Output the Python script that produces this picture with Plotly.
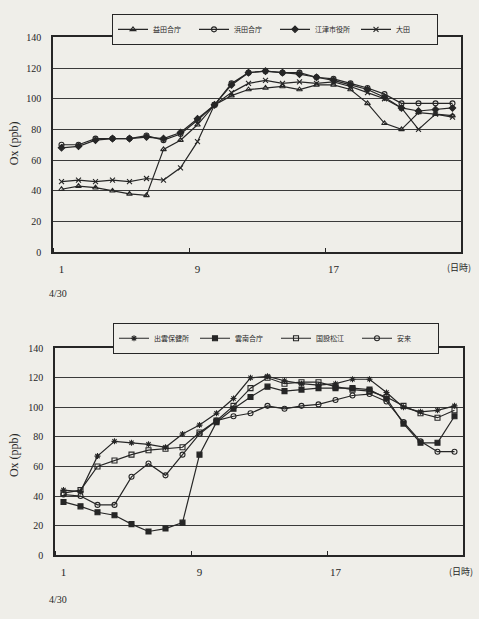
import plotly.graph_objects as go

# ---------------- data ----------------
hours = list(range(1, 25))
x_tick_vals = [1, 9, 17]
x_tick_text = ["1", "9", "17"]

# upper panel
top_names = ["益田合庁", "浜田合庁", "江津市役所", "大田"]
masuda = [41, 43, 42, 40, 38, 37, 67, 73, 83, 96, 102, 106, 107, 108, 106, 109, 109, 106, 97, 84, 80, 91, 90, 89]
hamada = [70, 70, 74, 74, 74, 76, 73, 77, 86, 96, 110, 117, 118, 117, 117, 114, 113, 110, 107, 103, 97, 97, 97, 97]
gotsu = [68, 69, 73, 74, 74, 75, 74, 78, 87, 96, 109, 117, 118, 117, 116, 114, 112, 109, 106, 101, 94, 92, 93, 94]
oda = [46, 47, 46, 47, 46, 48, 47, 55, 72, 96, 104, 110, 112, 110, 111, 110, 111, 108, 104, 100, 94, 80, 90, 88]

# lower panel
bot_names = ["出雲保健所", "雲南合庁", "国設松江", "安来"]
izumo = [44, 43, 67, 77, 76, 75, 73, 82, 88, 96, 106, 120, 121, 118, 116, 115, 116, 119, 119, 110, 100, 97, 98, 101]
unnan = [36, 33, 29, 27, 21, 16, 18, 22, 68, 90, 99, 107, 114, 111, 112, 113, 113, 113, 112, 106, 89, 76, 76, 94]
matsue = [42, 44, 60, 64, 68, 71, 72, 73, 83, 91, 101, 113, 120, 116, 117, 117, 114, 112, 111, 107, 101, 96, 93, 98]
yasugi = [41, 40, 34, 34, 53, 62, 54, 68, 82, 91, 94, 96, 101, 99, 101, 102, 105, 108, 109, 104, 90, 77, 70, 70]

# ---------------- styling ----------------
W, H = 479, 619
BG = "#efeee9"
INK = "#262626"
SERIF = "Liberation Serif"
CJK = "Noto Sans CJK JP"

top_series = [
    (top_names[0], masuda, "triangle-up-open"),
    (top_names[1], hamada, "circle-open"),
    (top_names[2], gotsu, "diamond"),
    (top_names[3], oda, "x-thin-open"),
]
bot_series = [
    (bot_names[0], izumo, "asterisk-open"),
    (bot_names[1], unnan, "square"),
    (bot_names[2], matsue, "square-open"),
    (bot_names[3], yasugi, "circle-open"),
]

fig = go.Figure()
for name, vals, sym in top_series:
    fig.add_trace(go.Scatter(
        x=hours, y=vals, name=name, mode="lines+markers",
        line=dict(color=INK, width=1.2),
        marker=dict(symbol=sym, size=5, color=INK, line=dict(color=INK, width=1.1)),
        xaxis="x", yaxis="y", legend="legend"))
for name, vals, sym in bot_series:
    fig.add_trace(go.Scatter(
        x=hours, y=vals, name=name, mode="lines+markers",
        line=dict(color=INK, width=1.2),
        marker=dict(symbol=sym, size=5, color=INK, line=dict(color=INK, width=1.1)),
        xaxis="x2", yaxis="y2", legend="legend2"))


def xax(domain, anchor):
    return dict(
        domain=domain, anchor=anchor, range=[0.5, 24.5],
        tickmode="array", tickvals=x_tick_vals, ticktext=x_tick_text,
        ticks="", showgrid=False, zeroline=False,
        showline=True, linecolor=INK, linewidth=1.5, mirror=True,
        tickfont=dict(family=SERIF, size=11, color=INK),
        ticklabelstandoff=6,
        minor=dict(ticks="inside", tick0=0.5, dtick=8, ticklen=4,
                   tickcolor=INK, tickwidth=1, showgrid=False),
    )


def yax(domain, anchor):
    return dict(
        domain=domain, anchor=anchor, range=[0, 140],
        tick0=0, dtick=20, ticks="",
        showgrid=True, gridcolor="#3a3a3a", gridwidth=1.3, zeroline=False,
        showline=True, linecolor=INK, linewidth=1.5, mirror=True,
        tickfont=dict(family=SERIF, size=10, color=INK),
        ticklabelstandoff=8,
    )


legend_common = dict(
    orientation="h", bgcolor=BG, bordercolor=INK, borderwidth=1,
    font=dict(family=CJK, size=7, color=INK),
    itemwidth=30, entrywidth=36, entrywidthmode="pixels",
    xanchor="left", yanchor="top", tracegroupgap=0,
    itemclick=False,
)

fig.update_layout(
    width=W, height=H, autosize=False,
    margin=dict(l=0, r=0, t=0, b=0),
    paper_bgcolor=BG, plot_bgcolor=BG,
    showlegend=True,
    xaxis=xax([53 / W, 461 / W], "y"),
    yaxis=yax([1 - 251 / H, 1 - 32 / H], "x"),
    xaxis2=xax([55 / W, 463 / W], "y2"),
    yaxis2=yax([1 - 560 / H, 1 - 349 / H], "x2"),
    legend=dict(legend_common, x=112 / W, y=1 - 8 / H),
    legend2=dict(legend_common, x=113 / W, y=1 - 323 / H),
)

annots = [
    dict(text="Ox (ppb)", x=14 / W, y=1 - 140 / H, textangle=-90),
    dict(text="Ox (ppb)", x=14 / W, y=1 - 458 / H, textangle=-90),
    dict(text="(日時)", x=459 / W, y=1 - 267 / H),
    dict(text="(日時)", x=461 / W, y=1 - 577 / H),
    dict(text="4/30", x=58 / W, y=1 - 293 / H),
    dict(text="4/30", x=58 / W, y=1 - 605 / H),
]
for a in annots:
    fnt = dict(family=SERIF, size=12 if "Ox" in a["text"] else 10, color=INK)
    if "日" in a["text"]:
        fnt = dict(family=CJK, size=9, color=INK)
    fig.add_annotation(xref="paper", yref="paper", showarrow=False,
                       xanchor="center", yanchor="middle", font=fnt, **a)

fig.write_html("out.html")
